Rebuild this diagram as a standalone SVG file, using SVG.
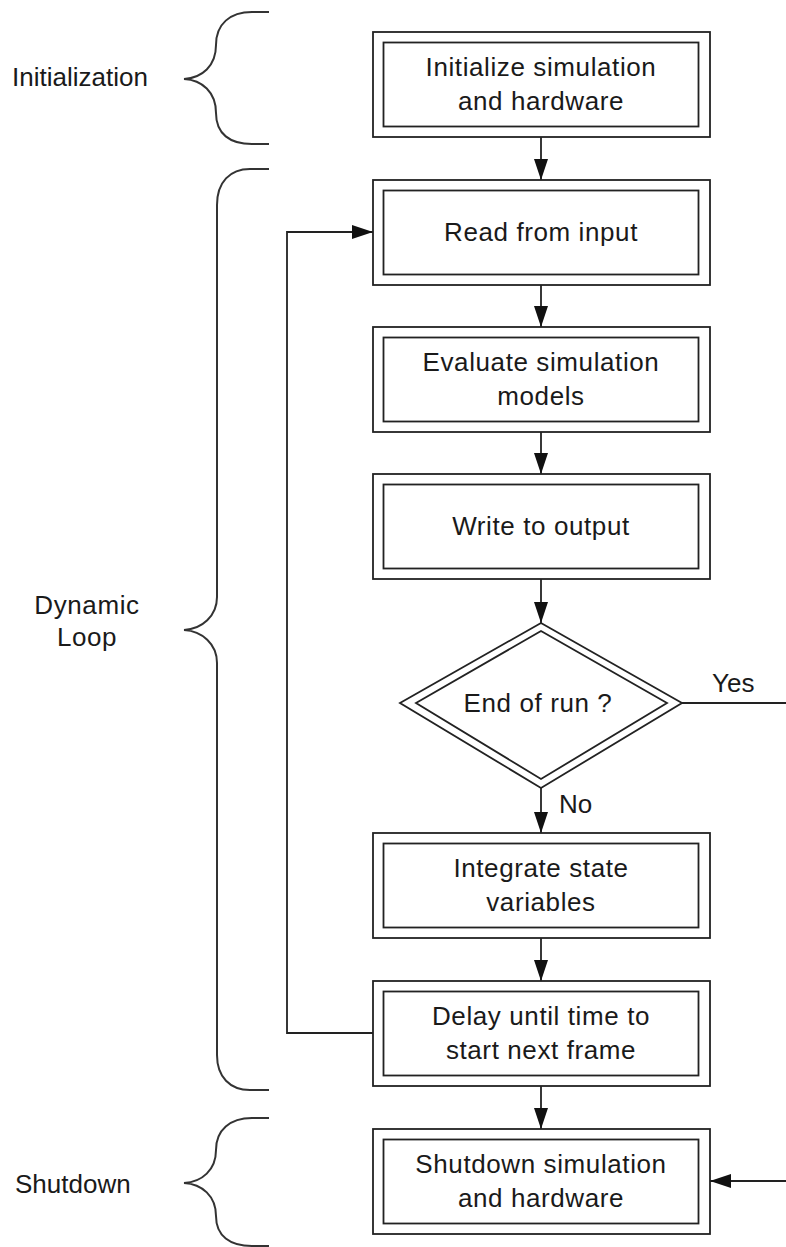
<svg xmlns="http://www.w3.org/2000/svg" width="786" height="1247" viewBox="0 0 786 1247">
<defs>
<style>
.o{fill:#fff;stroke:#222;stroke-width:1.8}
.i{fill:none;stroke:#222;stroke-width:1.8}
.t{font-family:"Liberation Sans",Arial,sans-serif;font-size:26px;letter-spacing:0.6px;fill:#1a1a1a;text-anchor:middle}
.l{font-family:"Liberation Sans",Arial,sans-serif;font-size:26px;fill:#1a1a1a}
.c{fill:none;stroke:#222;stroke-width:1.8}
.b{fill:none;stroke:#333;stroke-width:2}
</style>
<marker id="ah" viewBox="0 0 21 14" refX="21" refY="7" markerWidth="21" markerHeight="14" markerUnits="userSpaceOnUse" orient="auto">
<path d="M0,0 L21,7 L0,14 Z" fill="#111"/>
</marker>
</defs>
<g id="braces">
<path class="b" d="M269,12 L252,12 C230,12 216,24 216,45 C216,66 202,78 184,79 C202,80 216,92 216,113 C216,134 230,144 252,144 L269,144"/>
<path class="b" d="M269,169 L250,169 C230,169 217,182 217,205 L217,597 C217,616 202,629 184,630 C202,631 217,644 217,663 L217,1055 C217,1077 230,1090 250,1090 L269,1090"/>
<path class="b" d="M269,1118 L252,1118 C230,1118 216,1130 216,1150 C216,1170 202,1182 184,1183 C202,1184 216,1196 216,1216 C216,1236 230,1246 252,1246 L269,1246"/>
</g>
<g id="labels">
<text class="l" x="12" y="86">Initialization</text>
<text class="t" x="87" y="614">Dynamic</text>
<text class="t" x="87" y="646">Loop</text>
<text class="l" x="15" y="1193">Shutdown</text>
</g>
<g id="connectors">
<line class="c" x1="541" y1="137" x2="541" y2="180" marker-end="url(#ah)"/>
<line class="c" x1="541" y1="285" x2="541" y2="327" marker-end="url(#ah)"/>
<line class="c" x1="541" y1="432" x2="541" y2="474" marker-end="url(#ah)"/>
<line class="c" x1="541" y1="579" x2="541" y2="623" marker-end="url(#ah)"/>
<line class="c" x1="541" y1="788" x2="541" y2="833" marker-end="url(#ah)"/>
<line class="c" x1="541" y1="938" x2="541" y2="981" marker-end="url(#ah)"/>
<line class="c" x1="541" y1="1086" x2="541" y2="1129" marker-end="url(#ah)"/>
<line class="c" x1="682" y1="703" x2="786" y2="703"/>
<line class="c" x1="786" y1="1181" x2="710" y2="1181" marker-end="url(#ah)"/>
<polyline class="c" points="373,1033 287,1033 287,232 373,232" marker-end="url(#ah)"/>
<text class="l" x="712" y="692">Yes</text>
<text class="l" x="559" y="813">No</text>
</g>
<g id="n1">
<rect class="o" x="373" y="32" width="337" height="105"/>
<rect class="i" x="383.5" y="42.5" width="315" height="84"/>
<text class="t" x="541" y="76">Initialize simulation</text>
<text class="t" x="541" y="110">and hardware</text>
</g>
<g id="n2">
<rect class="o" x="373" y="180" width="337" height="105"/>
<rect class="i" x="383.5" y="190.5" width="315" height="84"/>
<text class="t" x="541" y="241">Read from input</text>
</g>
<g id="n3">
<rect class="o" x="373" y="327" width="337" height="105"/>
<rect class="i" x="383.5" y="337.5" width="315" height="84"/>
<text class="t" x="541" y="371">Evaluate simulation</text>
<text class="t" x="541" y="405">models</text>
</g>
<g id="n4">
<rect class="o" x="373" y="474" width="337" height="105"/>
<rect class="i" x="383.5" y="484.5" width="315" height="84"/>
<text class="t" x="541" y="535">Write to output</text>
</g>
<g id="n5">
<polygon class="o" points="541,623 682,703 541,788 400,703"/>
<polygon class="i" points="541,631 667,703 541,779 416,703"/>
<text class="t" x="538" y="712">End of run ?</text>
</g>
<g id="n6">
<rect class="o" x="373" y="833" width="337" height="105"/>
<rect class="i" x="383.5" y="843.5" width="315" height="84"/>
<text class="t" x="541" y="877">Integrate state</text>
<text class="t" x="541" y="911">variables</text>
</g>
<g id="n7">
<rect class="o" x="373" y="981" width="337" height="105"/>
<rect class="i" x="383.5" y="991.5" width="315" height="84"/>
<text class="t" x="541" y="1025">Delay until time to</text>
<text class="t" x="541" y="1059">start next frame</text>
</g>
<g id="n8">
<rect class="o" x="373" y="1129" width="337" height="105"/>
<rect class="i" x="383.5" y="1139.5" width="315" height="84"/>
<text class="t" x="541" y="1173">Shutdown simulation</text>
<text class="t" x="541" y="1207">and hardware</text>
</g>
</svg>
